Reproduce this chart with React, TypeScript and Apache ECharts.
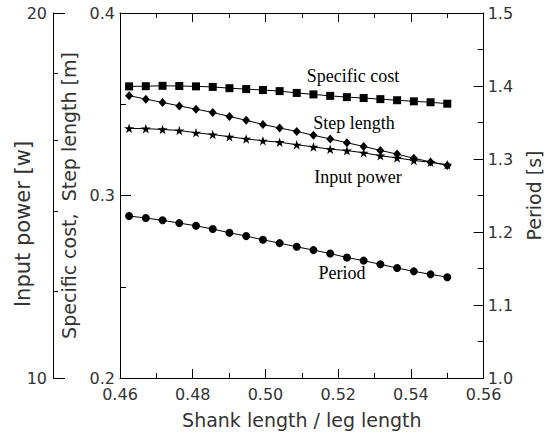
import React, { useEffect, useRef } from "react";
import * as echarts from "echarts";

const xValues = [0.4625, 0.4671, 0.4717, 0.4763, 0.4809, 0.4855, 0.4901, 0.4947, 0.4993, 0.5039, 0.5086, 0.5132, 0.5178, 0.5224, 0.527, 0.5316, 0.5362, 0.5408, 0.5454, 0.55];
const specificCost = [0.3598, 0.3599, 0.3601, 0.36, 0.3598, 0.3595, 0.3588, 0.3583, 0.3578, 0.3572, 0.3562, 0.3554, 0.3546, 0.3539, 0.3534, 0.3528, 0.3522, 0.3516, 0.3511, 0.3503];
const stepLength = [0.3547, 0.3528, 0.351, 0.3491, 0.3473, 0.3455, 0.3433, 0.3412, 0.3389, 0.337, 0.3351, 0.333, 0.331, 0.3289, 0.3269, 0.3247, 0.3227, 0.3204, 0.3184, 0.3165];
const inputPower = [16.84, 16.83, 16.81, 16.78, 16.72, 16.67, 16.61, 16.55, 16.5, 16.46, 16.39, 16.33, 16.27, 16.23, 16.17, 16.09, 16.03, 15.96, 15.91, 15.84];
const period = [1.2218, 1.2192, 1.216, 1.2122, 1.2085, 1.2041, 1.1989, 1.1944, 1.1893, 1.1848, 1.1797, 1.1752, 1.1705, 1.165, 1.1608, 1.1557, 1.1506, 1.1461, 1.142, 1.1381];
const outerMinorTicks = [12.38, 14.56, 16.52, 18.35];
const seriesLabels = ["Specific cost", "Step length", "Input power", "Period"];
const inputPowerTitle = "Input power [w]";

const STAR = "path://M50,0 L61,35 L98,35 L68,57 L79,91 L50,70 L21,91 L32,57 L2,35 L39,35 Z";
const SANS = "DejaVu Sans";
const SERIF = "Liberation Serif";
const INK = "#333";

export default function App() {
  const ref = useRef<HTMLDivElement>(null);
  useEffect(() => {
    if (!ref.current) return;
    const chart = echarts.init(ref.current, undefined, { renderer: "svg" });
    const pairs = (arr: number[]) => xValues.map((x, i) => [x, arr[i]]);
    const lineStyle = { color: "#000", width: 1 };
    const axisLine = { show: true, lineStyle: { color: "#000", width: 1 } };
    const nameStyle = { fontFamily: SANS, fontSize: 19, color: INK };
    const labelStyle = { fontFamily: SANS, fontSize: 16, color: INK };
    const tick = (length: number) => ({ show: true, inside: true, length, lineStyle: { color: "#000", width: 1 } });
    chart.setOption({
      animation: false,
      backgroundColor: "#fff",
      grid: { left: 120, right: 65, top: 13, bottom: 58 },
      xAxis: [
        {
          type: "value",
          position: "bottom",
          min: 0.46,
          max: 0.56,
          interval: 0.02,
          name: "Shank length / leg length",
          nameLocation: "middle",
          nameGap: 32,
          nameTextStyle: nameStyle,
          axisLine,
          axisTick: tick(9),
          minorTick: { show: true, splitNumber: 2, length: 5, lineStyle: { color: "#000" } },
          axisLabel: { ...labelStyle, margin: 8, formatter: (v: number) => v.toFixed(2) },
          splitLine: { show: false },
        },
        {
          type: "value",
          position: "top",
          min: 0.46,
          max: 0.56,
          interval: 0.02,
          axisLine,
          axisTick: tick(9),
          minorTick: { show: true, splitNumber: 2, length: 5, lineStyle: { color: "#000" } },
          axisLabel: { show: false },
          splitLine: { show: false },
        },
      ],
      yAxis: [
        {
          type: "value",
          position: "left",
          min: 0.2,
          max: 0.4,
          interval: 0.1,
          name: "Specific cost,\u00a0\u00a0Step length [m]",
          nameLocation: "middle",
          nameRotate: 90,
          nameGap: 38,
          nameTextStyle: nameStyle,
          axisLine,
          axisTick: tick(11),
          minorTick: { show: true, splitNumber: 2, length: 6, lineStyle: { color: "#000" } },
          axisLabel: { ...labelStyle, margin: 5, formatter: (v: number) => v.toFixed(1) },
          splitLine: { show: false },
        },
        {
          type: "value",
          position: "left",
          offset: 67,
          min: 10,
          max: 20,
          interval: 10,
          axisLine,
          axisTick: tick(12),
          axisLabel: { ...labelStyle, margin: 6 },
          splitLine: { show: false },
        },
        {
          type: "value",
          position: "right",
          min: 1.0,
          max: 1.5,
          interval: 0.1,
          name: "Period [s]",
          nameLocation: "middle",
          nameRotate: 90,
          nameGap: 34,
          nameTextStyle: nameStyle,
          axisLine,
          axisTick: tick(10),
          minorTick: { show: true, splitNumber: 2, length: 6, lineStyle: { color: "#000" } },
          axisLabel: { ...labelStyle, margin: 4, formatter: (v: number) => v.toFixed(1) },
          splitLine: { show: false },
        },
        {
          type: "value",
          position: "left",
          offset: 67,
          min: 10,
          max: 20,
          axisLine: { show: false },
          axisTick: { show: true, inside: true, length: 5, customValues: outerMinorTicks, lineStyle: { color: "#000" } },
          axisLabel: { show: false },
          splitLine: { show: false },
        },
      ],
      series: [
        {
          name: seriesLabels[0],
          type: "line",
          data: pairs(specificCost),
          yAxisIndex: 0,
          symbol: "rect",
          symbolSize: 8,
          lineStyle,
          itemStyle: { color: "#000" },
        },
        {
          name: seriesLabels[1],
          type: "line",
          data: pairs(stepLength),
          yAxisIndex: 0,
          symbol: "diamond",
          symbolSize: [8, 9],
          lineStyle,
          itemStyle: { color: "#000" },
        },
        {
          name: seriesLabels[2],
          type: "line",
          data: pairs(inputPower),
          yAxisIndex: 1,
          symbol: STAR,
          symbolSize: 10,
          symbolKeepAspect: true,
          lineStyle,
          itemStyle: { color: "#000" },
        },
        {
          name: seriesLabels[3],
          type: "line",
          data: pairs(period),
          yAxisIndex: 2,
          symbol: "circle",
          symbolSize: 8,
          lineStyle,
          itemStyle: { color: "#000" },
        },
      ],
      graphic: [
        {
          type: "text",
          x: 23,
          y: 224,
          rotation: Math.PI / 2,
          style: { text: inputPowerTitle, font: `21px "${SANS}"`, fill: INK, textAlign: "center", textVerticalAlign: "middle" },
        },
        { type: "text", x: 353, y: 76, style: { text: seriesLabels[0], font: `18px "${SERIF}"`, fill: "#000", textAlign: "center", textVerticalAlign: "middle" } },
        { type: "text", x: 354, y: 123, style: { text: seriesLabels[1], font: `18px "${SERIF}"`, fill: "#000", textAlign: "center", textVerticalAlign: "middle" } },
        { type: "text", x: 358, y: 177, style: { text: seriesLabels[2], font: `18px "${SERIF}"`, fill: "#000", textAlign: "center", textVerticalAlign: "middle" } },
        { type: "text", x: 342, y: 273, style: { text: seriesLabels[3], font: `18px "${SERIF}"`, fill: "#000", textAlign: "center", textVerticalAlign: "middle" } },
      ],
    });
    return () => chart.dispose();
  }, []);
  return <div ref={ref} style={{ position: "fixed", left: 0, top: 0, width: 551, height: 436 }} />;
}
